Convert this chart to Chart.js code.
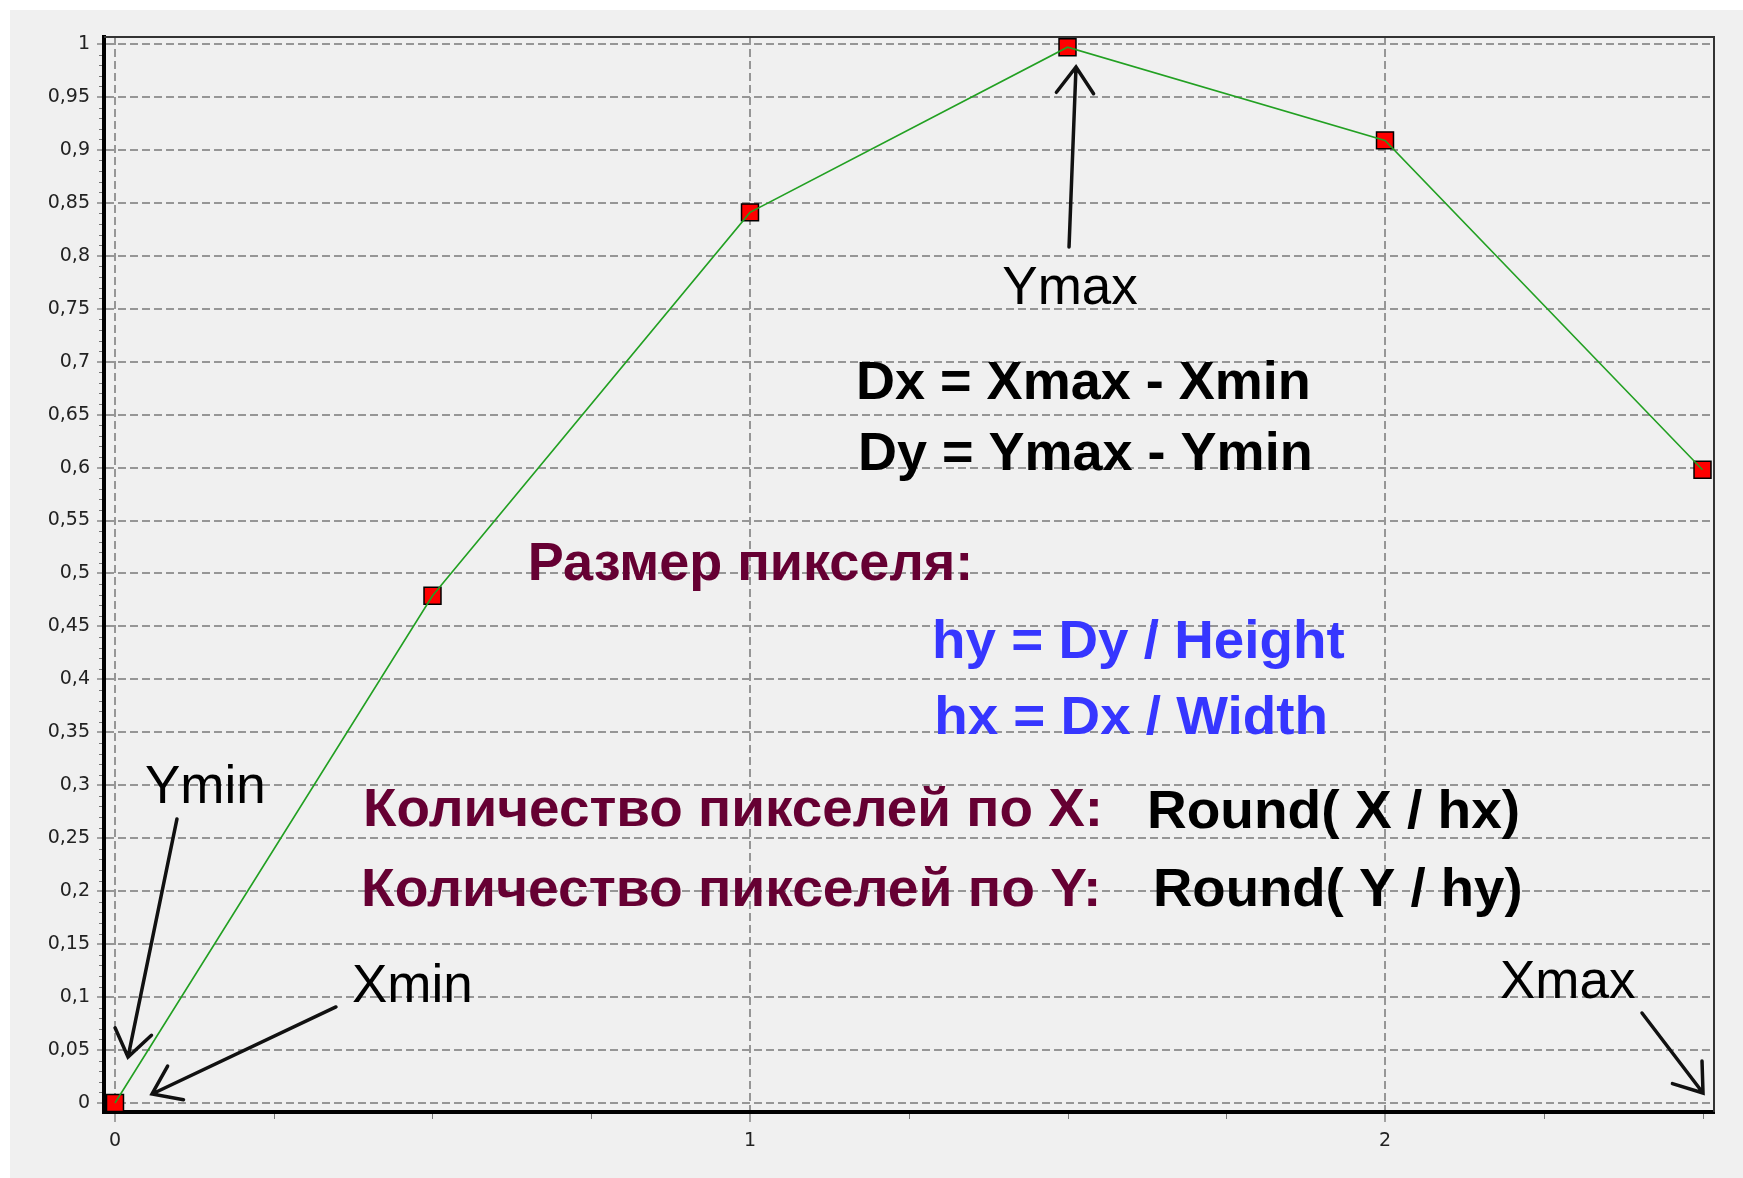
<!DOCTYPE html>
<html><head><meta charset="utf-8">
<script src="https://cdn.jsdelivr.net/npm/chart.js@4/dist/chart.umd.min.js"></script>
<style>html,body{margin:0;padding:0;background:#fff;}canvas{display:block;}</style>
</head><body>
<canvas id="c" width="1743" height="1178"></canvas>
<script>
// ---- data ----
const xValues = [0, 0.5, 1, 1.5, 2, 2.5];
const yValues = [0, 0.479, 0.841, 0.997, 0.909, 0.598];
const xTickValues = [0, 1, 2];
const xTickLabels = ['0', '1', '2'];
const yTickValues = [0,0.05,0.1,0.15,0.2,0.25,0.3,0.35,0.4,0.45,0.5,0.55,0.6,0.65,0.7,0.75,0.8,0.85,0.9,0.95,1];
const yTickLabels = ['0','0,05','0,1','0,15','0,2','0,25','0,3','0,35','0,4','0,45','0,5','0,55','0,6','0,65','0,7','0,75','0,8','0,85','0,9','0,95','1'];

// ---- annotations (data coordinates) ----
const MAROON = '#660033', BLUE = '#3636ff', BLACK = '#000000';
const REG = '53px "Liberation Sans", Arial, sans-serif';
const BOLD = 'bold 54px "Liberation Sans", Arial, sans-serif';
const notes = [
  {t:'Ymax', x:1.504, y:0.7545, align:'center', font:REG, color:BLACK},
  {t:'Dx = Xmax - Xmin', x:1.525, y:0.6648, align:'center', font:BOLD, color:BLACK},
  {t:'Dy = Ymax - Ymin', x:1.528, y:0.5977, align:'center', font:BOLD, color:BLACK},
  {t:'Размер пикселя:', x:0.650, y:0.4939, align:'left', font:BOLD, color:MAROON},
  {t:'hy = Dy / Height', x:1.2866, y:0.4202, align:'left', font:BOLD, color:BLUE, sx:1.015},
  {t:'hx = Dx / Width', x:1.290, y:0.3484, align:'left', font:BOLD, color:BLUE, sx:1.015},
  {t:'Количество пикселей по X:', x:0.3906, y:0.2616, align:'left', font:BOLD, color:MAROON, sx:1.016},
  {t:'Round( X / hx)', x:1.625, y:0.2597, align:'left', font:BOLD, color:BLACK, sx:1.02},
  {t:'Количество пикселей по Y:', x:0.3874, y:0.186, align:'left', font:BOLD, color:MAROON, sx:1.022},
  {t:'Round( Y / hy)', x:1.6346, y:0.186, align:'left', font:BOLD, color:BLACK, sx:1.01},
  {t:'Ymin', x:0.0472, y:0.2833, align:'left', font:REG, color:BLACK},
  {t:'Xmin', x:0.3732, y:0.0954, align:'left', font:REG, color:BLACK},
  {t:'Xmax', x:2.181, y:0.0992, align:'left', font:REG, color:BLACK}
];
const arrows = [
  {x1:1.5024, y1:0.8083, x2:1.5134, y2:0.9783},
  {x1:0.0976, y1:0.2682, x2:0.0205, y2:0.0434},
  {x1:0.348,  y1:0.0907, x2:0.0583, y2:0.0085},
  {x1:2.4047, y1:0.085,  x2:2.5008, y2:0.0094}
];

const bgPlugin = {
  id: 'bg',
  beforeDraw(chart) {
    const ctx = chart.ctx;
    ctx.save();
    ctx.fillStyle = '#ffffff';
    ctx.fillRect(0, 0, chart.width, chart.height);
    ctx.fillStyle = '#f0f0f0';
    ctx.fillRect(10, 10, chart.width - 10, chart.height - 10);
    ctx.restore();
  }
};

const decoPlugin = {
  id: 'deco',
  afterDraw(chart) {
    const {ctx, chartArea: a, scales: {x, y}} = chart;
    ctx.save();
    // top & right frame
    ctx.strokeStyle = '#333';
    ctx.lineWidth = 2;
    ctx.beginPath();
    ctx.moveTo(a.left, a.top); ctx.lineTo(a.right, a.top); ctx.lineTo(a.right, a.bottom);
    ctx.stroke();
    // minor ticks
    ctx.strokeStyle = '#777';
    ctx.lineWidth = 1;
    ctx.beginPath();
    for (let i = 0; i <= 100; i++) {
      if (i % 5 === 0) continue;
      const py = Math.round(y.getPixelForValue(i / 100)) + 0.5;
      ctx.moveTo(a.left - 5, py); ctx.lineTo(a.left - 2, py);
    }
    for (let i = 1; i <= 10; i++) {
      if (i % 4 === 0) continue;
      const px = Math.round(x.getPixelForValue(i * 0.25)) + 0.5;
      ctx.moveTo(px, a.bottom + 2); ctx.lineTo(px, a.bottom + 7);
    }
    ctx.stroke();
    // arrows
    ctx.strokeStyle = '#111';
    ctx.lineWidth = 3.5;
    ctx.lineCap = 'round';
    ctx.lineJoin = 'miter';
    arrows.forEach(ar => {
      const x1 = x.getPixelForValue(ar.x1), y1 = y.getPixelForValue(ar.y1);
      const x2 = x.getPixelForValue(ar.x2), y2 = y.getPixelForValue(ar.y2);
      const ang = Math.atan2(y2 - y1, x2 - x1), L = 32, h = 0.62;
      ctx.beginPath();
      ctx.moveTo(x1, y1); ctx.lineTo(x2, y2);
      ctx.moveTo(x2 - L * Math.cos(ang - h), y2 - L * Math.sin(ang - h));
      ctx.lineTo(x2, y2);
      ctx.lineTo(x2 - L * Math.cos(ang + h), y2 - L * Math.sin(ang + h));
      ctx.stroke();
    });
    // texts
    ctx.textBaseline = 'alphabetic';
    notes.forEach(n => {
      ctx.save();
      ctx.font = n.font;
      ctx.fillStyle = n.color;
      ctx.textAlign = n.align;
      const px = x.getPixelForValue(n.x), py = y.getPixelForValue(n.y);
      ctx.translate(px, py);
      ctx.scale(n.sx || 1, 1);
      ctx.fillText(n.t, 0, 0);
      ctx.restore();
    });
    ctx.restore();
  }
};

const pts = xValues.map((v, i) => ({x: v, y: yValues[i]}));
const tickFont = {family: '"DejaVu Sans", sans-serif', size: 19};

new Chart(document.getElementById('c'), {
  type: 'scatter',
  data: {
    datasets: [
      {data: pts, showLine: true, borderColor: '#22a022', borderWidth: 1.6, pointRadius: 0, order: 0, tension: 0, clip: false},
      {data: pts, showLine: false, pointStyle: 'rect', pointRadius: 12, backgroundColor: '#ff0000', borderColor: '#000', borderWidth: 1.5, order: 1, clip: false}
    ]
  },
  options: {
    responsive: false,
    animation: false,
    devicePixelRatio: 1,
    events: [],
    layout: {padding: {left: 0, top: 37, right: 29, bottom: 0}},
    plugins: {legend: {display: false}, tooltip: {enabled: false}},
    scales: {
      x: {
        type: 'linear', min: -0.01732, max: 2.5181,
        afterBuildTicks(s) { s.ticks = xTickValues.map(v => ({value: v})); },
        afterFit(s) { s.height = 66; },
        ticks: {callback: (v, i) => xTickLabels[i], font: tickFont, color: '#222', padding: 8, maxRotation: 0, autoSkip: false},
        grid: {color: '#969696', lineWidth: 2, tickLength: 10, tickColor: '#555', tickWidth: 1, tickBorderDash: []},
        border: {display: true, color: '#000', width: 4, dash: [8, 4]}
      },
      y: {
        type: 'linear', min: -0.0085, max: 1.00661,
        afterBuildTicks(s) { s.ticks = yTickValues.map(v => ({value: v})); },
        afterFit(s) { s.width = 104; },
        ticks: {callback: (v, i) => yTickLabels[i], font: tickFont, color: '#222', padding: 7, autoSkip: false},
        grid: {color: '#969696', lineWidth: 2, tickLength: 7, tickColor: '#555', tickWidth: 1, tickBorderDash: []},
        border: {display: true, color: '#000', width: 4, dash: [8, 4]}
      }
    }
  },
  plugins: [bgPlugin, decoPlugin]
});
</script>
</body></html>
